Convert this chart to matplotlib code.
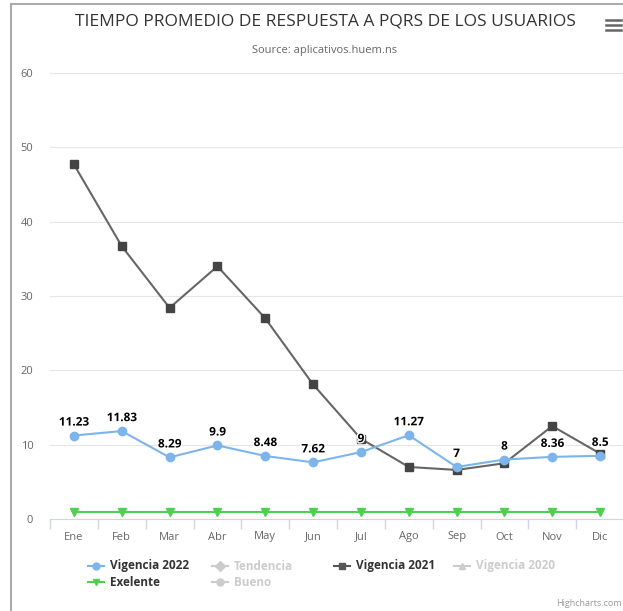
import matplotlib.pyplot as plt
import matplotlib.patheffects as pe
from matplotlib.lines import Line2D

plt.rcParams['font.family'] = ['Open Sans', 'DejaVu Sans']

# Datos
meses = ['Ene', 'Feb', 'Mar', 'Abr', 'May', 'Jun', 'Jul', 'Ago', 'Sep', 'Oct', 'Nov', 'Dic']
vigencia_2022 = [11.23, 11.83, 8.29, 9.9, 8.48, 7.62, 9, 11.27, 7, 8, 8.36, 8.5]
vigencia_2021 = [47.7, 36.7, 28.4, 34.0, 27.0, 18.1, 10.8, 7.0, 6.6, 7.5, 12.5, 8.8]
exelente = [1, 1, 1, 1, 1, 1, 1, 1, 1, 1, 1, 1]
y_ticks = [0, 10, 20, 30, 40, 50, 60]

W, H = 623, 611
fig = plt.figure(figsize=(W / 100, H / 100), dpi=100)


def fx(px):
    return px / W


def fy(py):
    return 1 - py / H


ax = fig.add_axes([fx(50), fy(519), fx(624) - fx(50), fy(73) - fy(519)])
x = list(range(len(meses)))

ax.plot(x, exelente, color='#4fcf4f', lw=1.5, marker='v', ms=6, zorder=3)
ax.plot(x, vigencia_2021, color='#666666', lw=1.5, marker='s', ms=6,
        mfc='#444444', mec='#444444', zorder=4)
ax.plot(x, vigencia_2022, color='#7cb5ec', lw=1.5, marker='o', ms=6, zorder=5)

for xi, v in zip(x, vigencia_2022):
    ax.annotate(f'{v:g}', (xi, v), xytext=(0, 5), textcoords='offset points',
                ha='center', va='bottom', fontsize=8.5, fontweight='bold', color='black',
                path_effects=[pe.withStroke(linewidth=2, foreground='white')], zorder=6)

ax.set_xlim(-0.5, len(meses) - 0.5)
ax.set_ylim(0, 60)
ax.set_yticks(y_ticks)
ax.set_xticks(x)
ax.set_xticklabels(meses)
ax.set_xticks([i - 0.5 for i in range(len(meses) + 1)], minor=True)
ax.tick_params(axis='x', which='major', length=0, pad=9, labelsize=8, labelcolor='#666666')
ax.tick_params(axis='x', which='minor', length=7, color='#ccd6eb', width=1, direction='out')
ax.tick_params(axis='y', length=0, pad=12, labelsize=8, labelcolor='#666666')
ax.grid(axis='y', color='#e6e6e6', lw=0.8)
ax.set_axisbelow(True)
for s in ['top', 'right', 'left']:
    ax.spines[s].set_visible(False)
ax.spines['bottom'].set_color('#ccd6eb')

# Titulos
fig.text(fx(325), fy(22), 'TIEMPO PROMEDIO DE RESPUESTA A PQRS DE LOS USUARIOS',
         ha='center', va='center', fontsize=12.5, color='#333333')
fig.text(fx(325), fy(50), 'Source: aplicativos.huem.ns', ha='center', va='center',
         fontsize=8, color='#666666')

# Leyenda
items = [
    ('Vigencia 2022', 96, 566, '#7cb5ec', 'o', '#333333'),
    ('Tendencia', 220, 566, '#cccccc', 'D', '#cccccc'),
    ('Vigencia 2021', 342, 566, '#555555', 's', '#333333'),
    ('Vigencia 2020', 462, 566, '#cccccc', '^', '#cccccc'),
    ('Exelente', 96, 582, '#4fcf4f', 'v', '#333333'),
    ('Bueno', 220, 582, '#cccccc', 'o', '#cccccc'),
]
for label, px, py, col, mk, tcol in items:
    fig.add_artist(Line2D([fx(px - 8), fx(px + 8)], [fy(py), fy(py)], color=col, lw=1.5))
    fig.add_artist(Line2D([fx(px)], [fy(py)], color=col, marker=mk, ms=5))
    fig.text(fx(px + 14), fy(py), label, ha='left', va='center', fontsize=8.5,
             fontweight='bold', color=tcol)

# Menu y creditos
for py in [20, 25, 30]:
    fig.add_artist(Line2D([fx(606), fx(621)], [fy(py), fy(py)], color='#666666', lw=1.8))
fig.text(fx(622), fy(603), 'Highcharts.com', ha='right', va='center', fontsize=6.5, color='#999999')

# Borde
fig.add_artist(Line2D([fx(11), fx(11)], [fy(4), 0], color='#aaaaaa', lw=1.5))
fig.add_artist(Line2D([fx(11), 1], [fy(4), fy(4)], color='#aaaaaa', lw=1.5))

fig.savefig('out.png', dpi=100)
